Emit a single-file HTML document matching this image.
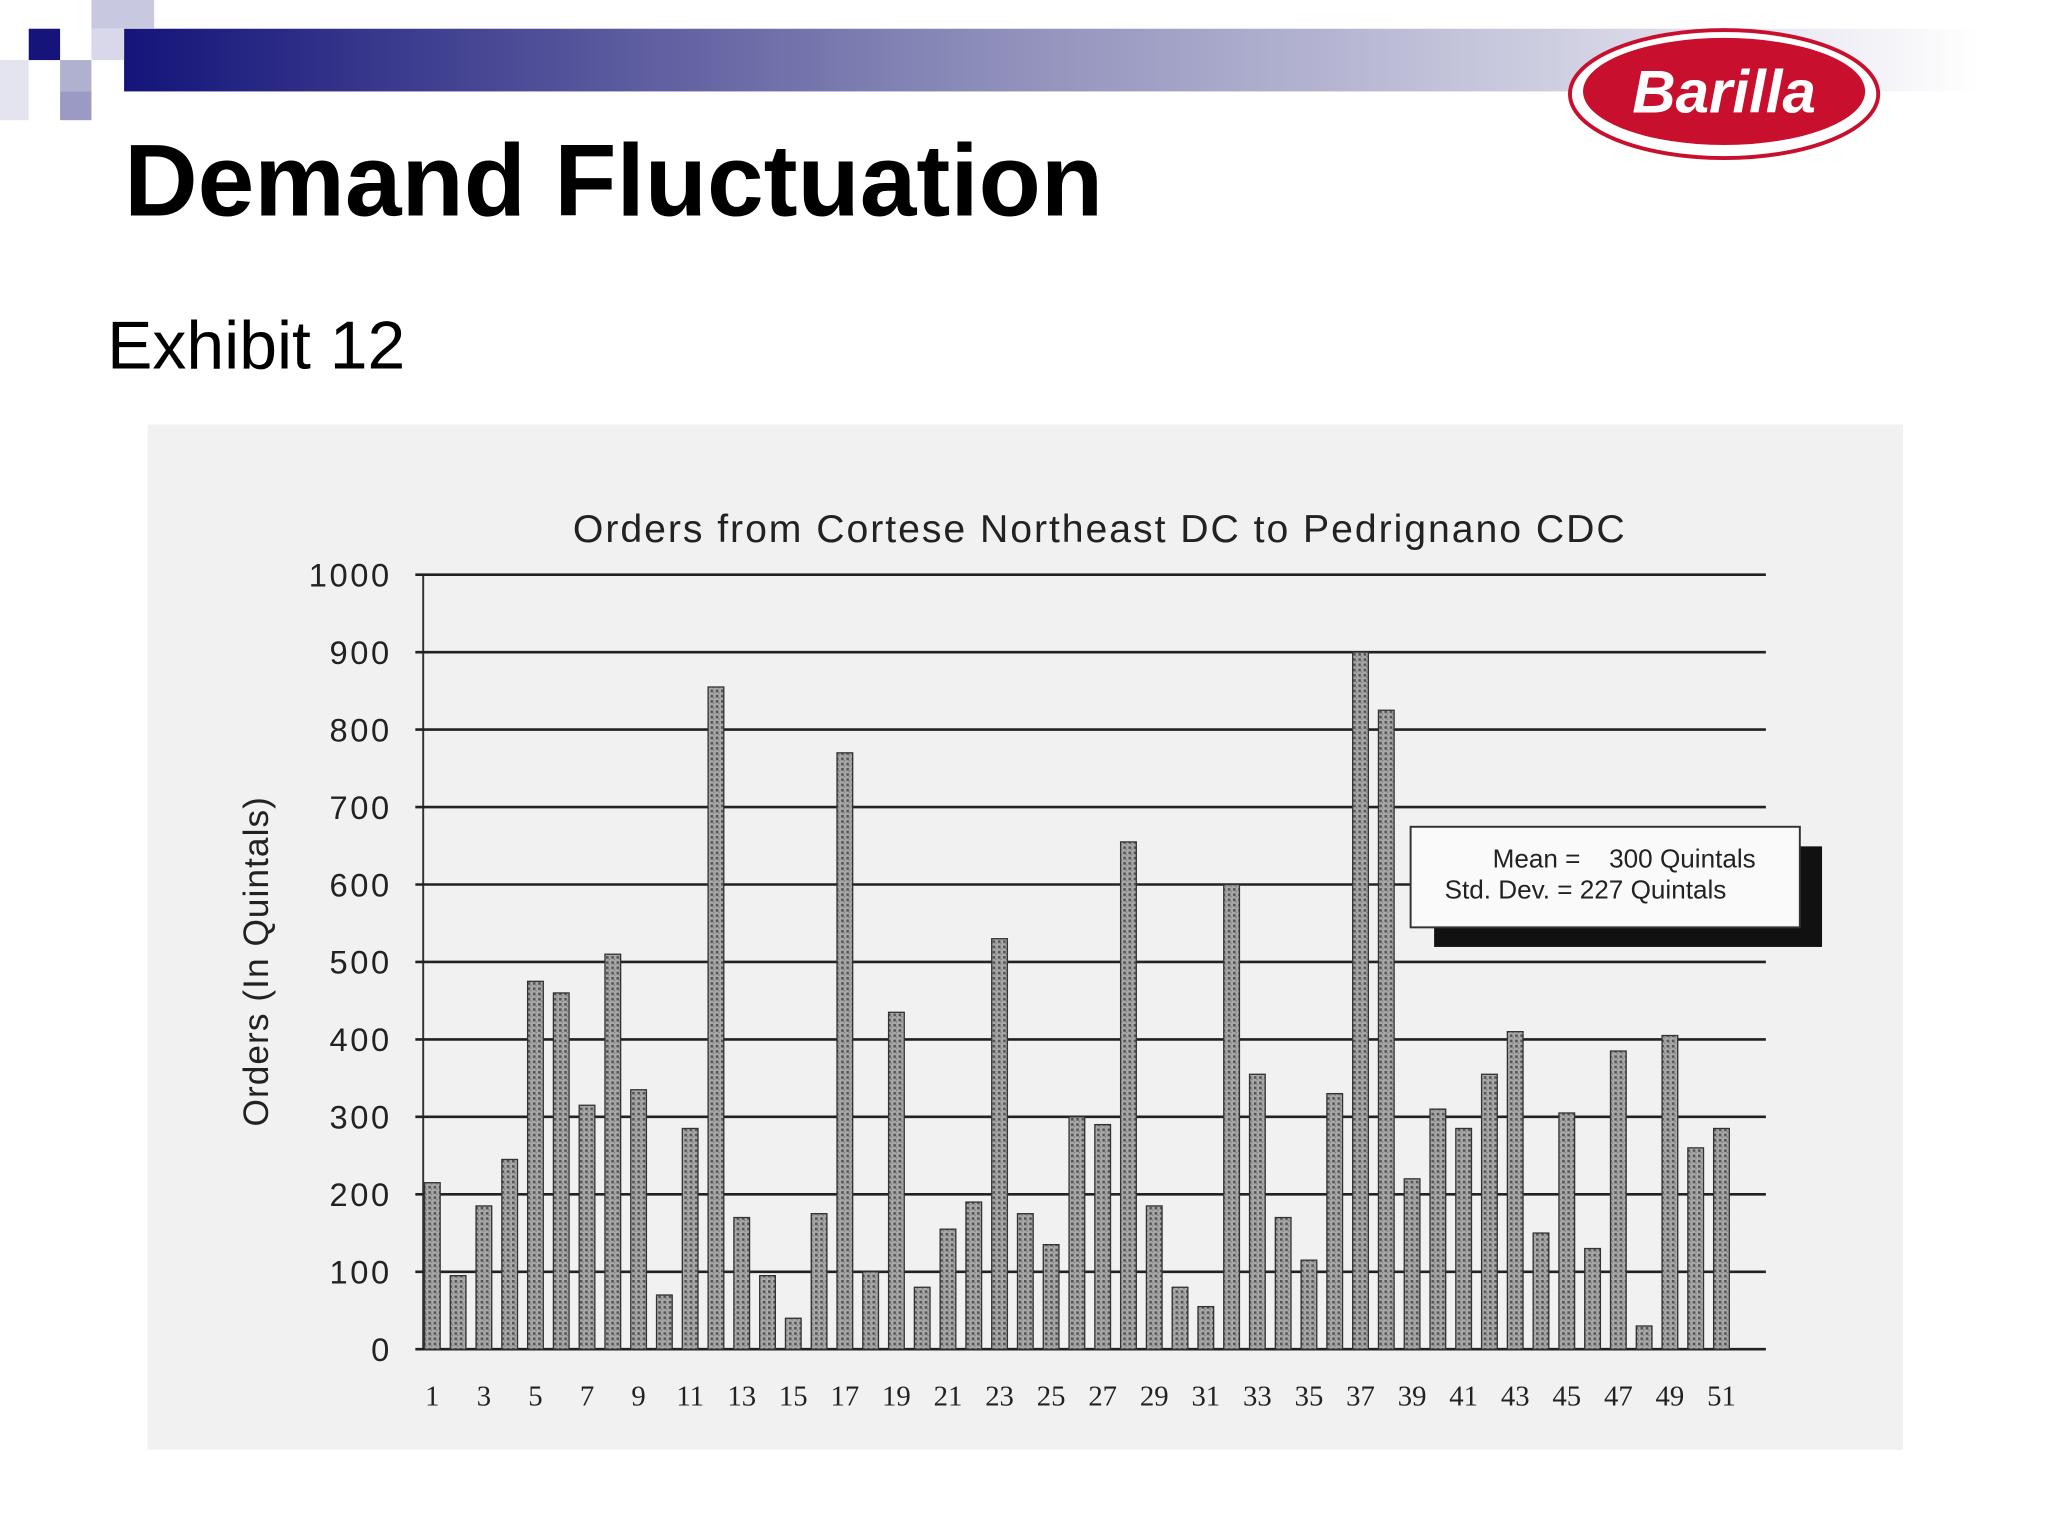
<!DOCTYPE html>
<html><head><meta charset="utf-8"><style>
html,body{margin:0;padding:0;background:#fff;}
svg{display:block;}
</style></head><body>
<svg width="2048" height="1536" viewBox="0 0 1568 1176" xmlns="http://www.w3.org/2000/svg">
<defs>
<linearGradient id="hdr" x1="0" x2="1" y1="0" y2="0">
<stop offset="0" stop-color="#14147a"/><stop offset="0.45" stop-color="#8a8ab8"/><stop offset="1" stop-color="#ffffff"/>
</linearGradient>
<pattern id="tex" width="4" height="4" patternUnits="userSpaceOnUse">
<rect width="4" height="4" fill="#a8a8a8"/><rect width="2" height="2" fill="#555"/><rect x="2" y="2" width="1" height="1" fill="#777"/>
</pattern>
</defs>
<g>
<rect x="95" y="22" width="1420" height="48" fill="url(#hdr)"/>
<rect x="22" y="22" width="24" height="24" fill="#14147a"/>
<rect x="70" y="0" width="48" height="22" fill="#c8c8e0"/>
<rect x="46" y="46" width="24" height="24" fill="#b0b0d0"/>
<rect x="0" y="46" width="22" height="46" fill="#e4e4f0"/>
<rect x="46" y="70" width="24" height="22" fill="#9a9ac4"/>
<rect x="70" y="22" width="25" height="24" fill="#d8d8ea"/>
</g>
<g>
<ellipse cx="1320" cy="72" rx="118" ry="49" fill="#fff" stroke="#c8102e" stroke-width="3"/>
<ellipse cx="1320" cy="70" rx="108" ry="41" fill="#c8102e"/>
<text x="1320" y="86" text-anchor="middle" font-family="Liberation Sans, sans-serif" font-weight="bold" font-style="italic" font-size="46" fill="#fff">Barilla</text>
</g>
<text x="95" y="165" font-family="Liberation Sans, sans-serif" font-weight="bold" font-size="78" fill="#000">Demand Fluctuation</text>
<text x="82" y="282" font-family="Liberation Sans, sans-serif" font-size="52" fill="#000">Exhibit 12</text>
<rect x="113" y="325" width="1344" height="785" fill="#f1f1f1"/>
<text x="842" y="415" text-anchor="middle" font-family="Liberation Sans, sans-serif" font-size="30" letter-spacing="1.5" fill="#222">Orders from Cortese Northeast DC to Pedrignano CDC</text>
<text transform="translate(205,736) rotate(-90)" text-anchor="middle" font-family="Liberation Sans, sans-serif" font-size="27" letter-spacing="0.8" fill="#222">Orders (In Quintals)</text>
<g id="grid"></g>
<g id="bars"></g>
<g id="ticks"></g>
<g>
<rect x="1098" y="648" width="297" height="77" fill="#111"/>
<rect x="1080" y="633" width="298" height="77" fill="#fafafa" stroke="#333" stroke-width="1.5"/>
<text x="1210" y="664" text-anchor="end" font-family="Liberation Sans, sans-serif" font-size="20" fill="#222">Mean =</text>
<text x="1232" y="664" font-family="Liberation Sans, sans-serif" font-size="20" fill="#222">300 Quintals</text>
<text x="1106" y="688" font-family="Liberation Sans, sans-serif" font-size="20" fill="#222">Std. Dev. = 227 Quintals</text>
</g>
<script>
const weeks=[1,2,3,4,5,6,7,8,9,10,11,12,13,14,15,16,17,18,19,20,21,22,23,24,25,26,27,28,29,30,31,32,33,34,35,36,37,38,39,40,41,42,43,44,45,46,47,48,49,50,51];
const orders=[215,95,185,245,475,460,315,510,335,70,285,855,170,95,40,175,770,100,435,80,155,190,530,175,135,300,290,655,185,80,55,600,355,170,115,330,900,825,220,310,285,355,410,150,305,130,385,30,405,260,285];
const yTicks=[0,100,200,300,400,500,600,700,800,900,1000];
const xLabels=[1,3,5,7,9,11,13,15,17,19,21,23,25,27,29,31,33,35,37,39,41,43,45,47,49,51];
const NS='http://www.w3.org/2000/svg';
const y0=1033,y1=440,x0=331,x51=1318;
function yS(v){return y0-(y0-y1)*v/1000;}
function xS(w){return x0+(x51-x0)*(w-1)/50;}
function mk(t,a,p){const e=document.createElementNS(NS,t);for(const k in a)e.setAttribute(k,a[k]);p.appendChild(e);return e;}
const g=document.getElementById('grid'),b=document.getElementById('bars'),tk=document.getElementById('ticks');
mk('line',{x1:324,y1:yS(0),x2:324,y2:yS(1000),stroke:'#333','stroke-width':1.5},g);
yTicks.forEach(v=>{
 const l=mk('line',{x1:318,y1:yS(v),x2:1352,y2:yS(v),stroke:'#222','stroke-width':2},g);
 
 
 const t=mk('text',{x:300,y:yS(v)+9,'text-anchor':'end','font-family':'Liberation Sans, sans-serif','font-size':25,'letter-spacing':2,fill:'#222'},tk);
 t.textContent=v;
 
 
});
weeks.forEach((w,i)=>{
 const r=mk('rect',{x:xS(w)-6,y:yS(orders[i]),width:12,height:yS(0)-yS(orders[i]),fill:'url(#tex)',stroke:'#333','stroke-width':1},b);
 
 
});
xLabels.forEach(w=>{
 const t=mk('text',{x:xS(w),y:1076,'text-anchor':'middle','font-family':'Liberation Serif, serif','font-size':22,fill:'#222'},tk);
 t.textContent=w;
 
 
});
</script>
</svg>
</body></html>
